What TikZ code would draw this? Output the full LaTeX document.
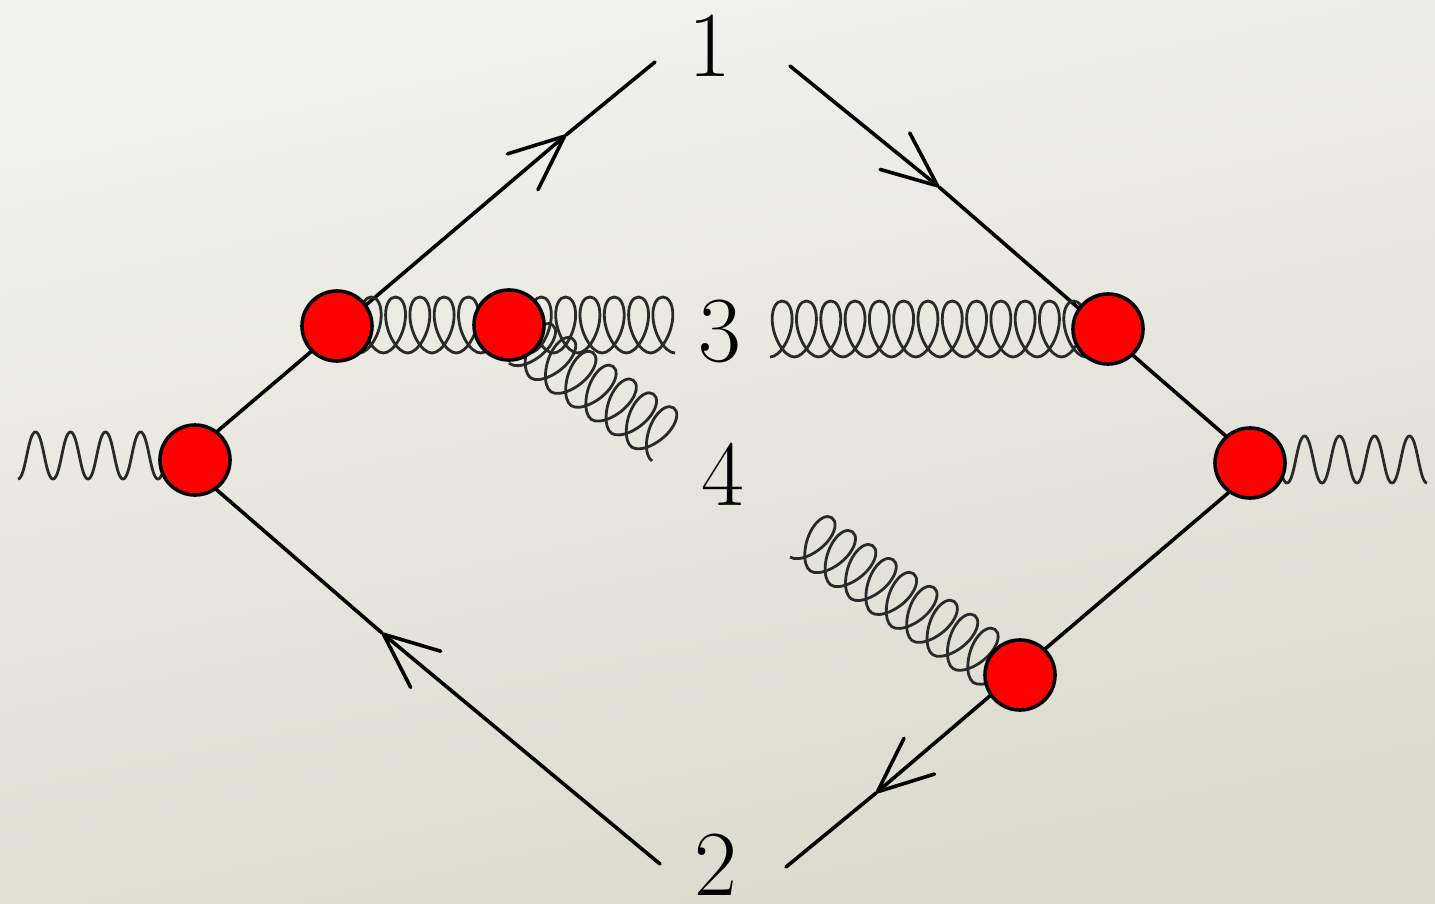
\documentclass[tikz,border=0pt]{standalone}
\usepackage{fontspec}
\usepackage{xcolor}
\usetikzlibrary{arrows.meta,decorations.pathmorphing,backgrounds}
\definecolor{BGTop}{HTML}{F2F2EE}
\definecolor{BGBottom}{HTML}{DBDACD}
\definecolor{VXRed}{HTML}{FF0000}
\definecolor{GLine}{HTML}{2A2A2A}
% wave that starts and ends on its trough
\pgfdeclaredecoration{troughwave}{initial}{
\state{initial}[switch if less than=\pgfdecorationsegmentlength to final,width=\pgfdecorationsegmentlength]{
\pgfpathcurveto{\pgfqpoint{.22\pgfdecorationsegmentlength}{0pt}}{\pgfqpoint{.28\pgfdecorationsegmentlength}{\pgfdecorationsegmentamplitude}}{\pgfqpoint{.5\pgfdecorationsegmentlength}{\pgfdecorationsegmentamplitude}}
\pgfpathcurveto{\pgfqpoint{.72\pgfdecorationsegmentlength}{\pgfdecorationsegmentamplitude}}{\pgfqpoint{.78\pgfdecorationsegmentlength}{0pt}}{\pgfqpoint{\pgfdecorationsegmentlength}{0pt}}
}
\state{final}{\pgfpathlineto{\pgfpointdecoratedpathlast}}
}
% coil with its loops on one side, trough to trough
\pgfdeclaredecoration{troughcoil}{initial}{
\state{initial}[switch if less than=\pgfdecorationsegmentlength to final,width=\pgfdecorationsegmentlength]{
\pgfpathcurveto{\pgfqpoint{.42\pgfdecorationsegmentlength}{0pt}}{\pgfqpoint{.91\pgfdecorationsegmentlength}{.36\pgfdecorationsegmentamplitude}}{\pgfqpoint{.91\pgfdecorationsegmentlength}{.68\pgfdecorationsegmentamplitude}}
\pgfpathcurveto{\pgfqpoint{.91\pgfdecorationsegmentlength}{.88\pgfdecorationsegmentamplitude}}{\pgfqpoint{.73\pgfdecorationsegmentlength}{\pgfdecorationsegmentamplitude}}{\pgfqpoint{.5\pgfdecorationsegmentlength}{\pgfdecorationsegmentamplitude}}
\pgfpathcurveto{\pgfqpoint{.27\pgfdecorationsegmentlength}{\pgfdecorationsegmentamplitude}}{\pgfqpoint{.09\pgfdecorationsegmentlength}{.88\pgfdecorationsegmentamplitude}}{\pgfqpoint{.09\pgfdecorationsegmentlength}{.68\pgfdecorationsegmentamplitude}}
\pgfpathcurveto{\pgfqpoint{.09\pgfdecorationsegmentlength}{.36\pgfdecorationsegmentamplitude}}{\pgfqpoint{.58\pgfdecorationsegmentlength}{0pt}}{\pgfqpoint{\pgfdecorationsegmentlength}{0pt}}
}
\state{final}{\pgfpathlineto{\pgfpointdecoratedpathlast}}
}
\tikzset{
  vertex/.style={circle,draw=black,fill=VXRed,line width=.036cm,minimum size=.70cm,inner sep=0pt},
  quark/.style={black,line width=.036cm,line cap=round},
  quarkarrow/.style={quark,-{Straight Barb[length=.55cm,width=.47cm,round]}},
  gluon/.style={GLine,line width=.028cm,decorate,decoration={troughcoil,segment length=.243cm,amplitude=.56cm}},
  photon/.style={GLine,line width=.028cm,decorate,decoration={troughwave,segment length=.35cm,amplitude=.47cm}},
  label/.style={black,inner sep=0pt,font=\fontsize{26.5}{30}\selectfont}
}
\begin{document}
\begin{tikzpicture}[x=1cm,y=1cm]
\path[use as bounding box] (0,0) rectangle (14.35,9.03);
% vertices
\node[vertex] (vL) at (1.95,4.43) {};
\node[vertex] (vA) at (3.37,5.77) {};
\node[vertex] (vB) at (5.09,5.78) {};
\node[vertex] (vC) at (11.08,5.74) {};
\node[vertex] (vR) at (12.50,4.40) {};
\node[vertex] (vD) at (10.20,2.28) {};
% parton labels
\node[label] (lblOne) at (7.10,8.57) {1};
\node[label] (lblTwo) at (7.16,0.38) {2};
\node[label] (lblThree) at (7.20,5.72) {3};
\node[label] (lblFour) at (7.23,4.29) {4};
% free ends
\coordinate (endA) at (6.55,8.41);
\coordinate (endB) at (7.90,8.37);
\coordinate (endC) at (6.60,0.39);
\coordinate (endD) at (7.86,0.36);
\coordinate (tipA) at (5.66,7.68);
\coordinate (tipB) at (9.39,7.16);
\coordinate (tipC) at (3.82,2.70);
\coordinate (tipD) at (8.76,1.10);
\coordinate (endPL) at (0.18,4.24);
\coordinate (endPR) at (14.27,4.20);
\coordinate (endGA) at (6.75,5.50);
\coordinate (endGB) at (7.70,5.46);
\coordinate (endGC) at (6.52,4.42);
\coordinate (backGC) at (5.09,5.40);
\coordinate (endGD) at (7.90,3.46);
\coordinate (backGD) at (9.96,2.05);
\begin{scope}[on background layer]
\shade[top color=BGTop,bottom color=BGBottom,shading angle=12] (0,0) rectangle (14.35,9.03);
\draw[quarkarrow] (vL.52) -- (tipA);
\draw[quark] (tipA) -- (endA);
\draw[quarkarrow] (endB) -- (tipB);
\draw[quark] (tipB) -- (vR.132);
\draw[quarkarrow] (vR.234) -- (tipD);
\draw[quark] (tipD) -- (endD);
\draw[quarkarrow] (endC) -- (tipC);
\draw[quark] (tipC) -- (vL.-54);
\draw[photon] (endPL) -- (endPL -| vL);
\draw[photon,decoration={mirror}] (endPR) -- (endPR -| vR);
\draw[gluon,decoration={mirror}] (endGA) -- (endGA -| vA);
\draw[gluon] (endGB) -- (endGB -| vC);
\draw[gluon,decoration={mirror,segment length=.245cm}] (endGC) -- (backGC);
\draw[gluon,decoration={segment length=.247cm}] (endGD) -- (backGD);
\end{scope}
\end{tikzpicture}
\end{document}
